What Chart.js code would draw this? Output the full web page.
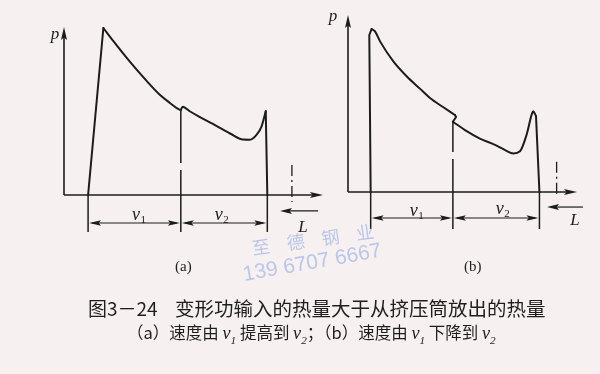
<!DOCTYPE html>
<html><head><meta charset="utf-8">
<script src="https://cdn.jsdelivr.net/npm/chart.js@4.4.0/dist/chart.umd.min.js"></script>
<style>
html,body{margin:0;padding:0;background:#f6f1f0;}
#wrap{position:relative;width:600px;height:374px;overflow:hidden;background:#f6f1f0;}
canvas{position:absolute;left:0;top:0;}
.t{position:absolute;white-space:nowrap;color:#1e1e1e;line-height:1;}
.cjk{font-family:"Noto Sans CJK SC","Noto Sans",sans-serif;}
.ser{font-family:"Liberation Serif","DejaVu Serif",serif;}
.wm{position:absolute;white-space:nowrap;color:rgba(130,155,228,0.5);line-height:1;transform-origin:0 50%;}
i{font-size:1.1em;}
i sub{font-size:0.62em;}
</style></head><body>
<div id="wrap">
<canvas id="ca" width="600" height="374"></canvas>
<canvas id="cb" width="600" height="374"></canvas>
<div class="wm cjk" style="left:252px;top:238px;font-size:18px;letter-spacing:17px;transform:rotate(-8deg);">至德钢业</div>
<div class="wm" style="left:243px;top:263px;font-size:21px;font-family:'Liberation Sans',sans-serif;transform:rotate(-10deg);">139 6707 6667</div>
<div class="t ser" style="left:175px;top:259px;font-size:15px;">(a)</div>
<div class="t ser" style="left:464px;top:259px;font-size:15px;">(b)</div>
<div class="t cjk" style="left:88px;top:298px;font-size:19px;">图3－24</div>
<div class="t cjk" style="left:175px;top:298px;font-size:19.5px;">变形功输入的热量大于从挤压筒放出的热量</div>
<div class="t cjk" style="left:127px;top:324px;font-size:16.5px;">（a）速度由 <i class="ser">v<sub>1</sub></i> 提高到 <i class="ser">v<sub>2</sub></i>；（b）速度由 <i class="ser">v<sub>1</sub></i> 下降到 <i class="ser">v<sub>2</sub></i></div>
</div>
<script>
// ---------- Panel (a): speed raised from v1 to v2 ----------
const A_RISE_X   = [9.3, 15.2];
const A_RISE_Y   = [0, 99.4];
const A_DECAY1_X = [15.2, 19.0, 25.5, 31.9, 37.1, 40.9, 44.4, 45.0];
const A_DECAY1_Y = [99.4, 91.7, 79.2, 67.9, 59.5, 54.8, 50.9, 50.6];
const A_DECAY2_X = [45.1, 45.8, 48.7, 52.5, 57.5, 64.1, 69.1, 71.8, 74.4, 76.3, 77.9];
const A_DECAY2_Y = [50.6, 52.6, 49.7, 46.4, 42.3, 36.6, 33.0, 32.9, 35.9, 40.9, 49.8];
const A_DROP_X   = [77.9, 78.5];
const A_DROP_Y   = [49.8, 0];
const A_BOUNDS   = [9.3, 45.1, 78.5];     // limits of the v1 / v2 stretches
const A_BOUND_TOP= [0, 50.6, 0];
const A_GAP      = [19.0, 14.9];          // break in the middle line
const A_DIM_Y    = -16.7, A_EXT_Y = -22.0;
const A_L_X      = 88.0, A_L_Y = [17.9, -4.2];
const A_ARROW_Y  = -9.5, A_ARROW_X = [98.1, 83.4];
const A_LABELS   = {p:[-3.5, 95.8], v1:[29.0, -11.9], v2:[61.0, -11.9], L:[92.3, -19.6]};

// ---------- Panel (b): speed lowered from v1 to v2 ----------
const B_RISE_X   = [9.9, 9.3, 10.3];
const B_RISE_Y   = [0, 88.7, 92.1];
const B_DECAY1_X = [10.3, 11.8, 14.0, 19.8, 25.6, 31.4, 35.8, 41.5, 46.7];
const B_DECAY1_Y = [92.1, 90.8, 85.1, 73.8, 65.4, 58.4, 53.1, 48.0, 43.5];
const B_NOTCH_X  = [46.7, 47.2, 45.8];
const B_NOTCH_Y  = [43.5, 42.4, 39.7];
const B_DECAY2_X = [45.8, 51.1, 57.6, 64.2, 68.6, 72.2, 75.1, 78.0, 80.2, 80.9, 82.1];
const B_DECAY2_Y = [39.7, 35.0, 30.2, 26.6, 23.7, 21.8, 23.0, 32.4, 43.7, 45.6, 42.8];
const B_DROP_X   = [82.1, 83.6];
const B_DROP_Y   = [42.8, 0];
const B_BOUNDS   = [9.9, 45.8, 83.6];
const B_BOUND_TOP= [0, 39.7, 0];
const B_GAP      = [22.6, 18.6];
const B_DIM_Y    = -14.7, B_EXT_Y = -20.9;
const B_L_X      = 91.1, B_L_Y = [17.1, -2.8];
const B_ARROW_Y  = -8.5, B_ARROW_X = [102.6, 86.9];
const B_LABELS   = {p:[-6.6, 98.9], v1:[30.1, -10.7], v2:[67.7, -9.6], L:[99.1, -16.4]};

const INK = '#1c1c1c';

function pts(xs, ys){ return xs.map((x,i)=>({x:x, y:ys[i]})); }
function seg(xs, ys, smooth){
  return {data: pts(xs, ys), borderColor: INK, borderWidth: 2, pointRadius: 0, fill: false,
          clip: false, tension: 0, cubicInterpolationMode: smooth ? 'monotone' : 'default',
          borderCapStyle: 'round', borderJoinStyle: 'round'};
}
function head(ctx, tx, ty, dx, dy, len, hw){
  const nx = -dy, ny = dx;
  ctx.beginPath();
  ctx.moveTo(tx, ty);
  ctx.lineTo(tx - dx*len + nx*hw, ty - dy*len + ny*hw);
  ctx.lineTo(tx - dx*len*0.8, ty - dy*len*0.8);
  ctx.lineTo(tx - dx*len - nx*hw, ty - dy*len - ny*hw);
  ctx.closePath();
  ctx.fill();
}
function vLabel(ctx, x, y, sub){
  ctx.font = 'italic 18px "Liberation Serif"';
  ctx.textBaseline = 'alphabetic';
  ctx.textAlign = 'left';
  const w = ctx.measureText('v').width;
  ctx.fillText('v', x - w*0.9, y + 5);
  ctx.font = '11px "Liberation Serif"';
  ctx.fillText(sub, x - w*0.9 + w + 0.5, y + 8);
}
function annotate(cfg){
  return {
    id: 'annot',
    afterDatasetsDraw(chart){
      const ctx = chart.ctx, sx = chart.scales.x, sy = chart.scales.y;
      const X = v => sx.getPixelForValue(v), Y = v => sy.getPixelForValue(v);
      ctx.save();
      ctx.strokeStyle = INK; ctx.fillStyle = INK; ctx.lineCap = 'butt';
      // axes
      ctx.lineWidth = 1.6;
      ctx.beginPath(); ctx.moveTo(X(0), Y(0)); ctx.lineTo(X(100) - 4, Y(0)); ctx.stroke();
      ctx.beginPath(); ctx.moveTo(X(0), Y(0)); ctx.lineTo(X(0), Y(100) + 4); ctx.stroke();
      head(ctx, X(100), Y(0), 1, 0, 13, 3);
      head(ctx, X(0), Y(100), 0, -1, 13, 3);
      // boundary / extension lines
      ctx.lineWidth = 1.5;
      cfg.bounds.forEach((b, i) => {
        const top = cfg.boundTop[i];
        ctx.beginPath();
        if (i === 1) {
          ctx.moveTo(X(b), Y(top)); ctx.lineTo(X(b), Y(cfg.gap[0]));
          ctx.moveTo(X(b), Y(cfg.gap[1])); ctx.lineTo(X(b), Y(cfg.extY));
        } else {
          ctx.moveTo(X(b), Y(top)); ctx.lineTo(X(b), Y(cfg.extY));
        }
        ctx.stroke();
      });
      // dimension lines with arrowheads
      ctx.lineWidth = 1.1;
      for (let i = 0; i < cfg.bounds.length - 1; i++) {
        const x1 = X(cfg.bounds[i]), x2 = X(cfg.bounds[i+1]), y = Y(cfg.dimY);
        ctx.beginPath(); ctx.moveTo(x1 + 4, y); ctx.lineTo(x2 - 4, y); ctx.stroke();
        head(ctx, x1 + 1, y, -1, 0, 12, 2.8);
        head(ctx, x2 - 1, y, 1, 0, 12, 2.8);
      }
      // dash-dot marker line
      ctx.lineWidth = 1.3;
      ctx.setLineDash([11, 4, 2, 4]);
      ctx.beginPath(); ctx.moveTo(X(cfg.lX), Y(cfg.lY[0])); ctx.lineTo(X(cfg.lX), Y(cfg.lY[1])); ctx.stroke();
      ctx.setLineDash([]);
      // direction arrow of L
      ctx.lineWidth = 1.2;
      const ay = Y(cfg.arrowY);
      ctx.beginPath(); ctx.moveTo(X(cfg.arrowX[0]), ay); ctx.lineTo(X(cfg.arrowX[1]) + 5, ay); ctx.stroke();
      head(ctx, X(cfg.arrowX[1]), ay, -1, 0, 12, 3);
      // labels
      ctx.textAlign = 'center'; ctx.textBaseline = 'middle';
      ctx.font = 'italic 17px "Liberation Serif"';
      ctx.fillText('p', X(cfg.labels.p[0]), Y(cfg.labels.p[1]));
      ctx.fillText('L', X(cfg.labels.L[0]), Y(cfg.labels.L[1]));
      vLabel(ctx, X(cfg.labels.v1[0]), Y(cfg.labels.v1[1]), '1');
      vLabel(ctx, X(cfg.labels.v2[0]), Y(cfg.labels.v2[1]), '2');
      ctx.restore();
    }
  };
}
function makePanel(id, pad, datasets, cfg){
  return new Chart(document.getElementById(id), {
    type: 'line',
    data: {datasets: datasets},
    options: {
      responsive: false, animation: false, events: [],
      layout: {padding: pad},
      scales: {
        x: {type: 'linear', min: 0, max: 100, display: false},
        y: {type: 'linear', min: 0, max: 100, display: false}
      },
      plugins: {legend: {display: false}, tooltip: {enabled: false}, title: {display: false}}
    },
    plugins: [annotate(cfg)]
  });
}
makePanel('ca', {left: 64, right: 277, top: 27, bottom: 179}, [
  seg(A_RISE_X, A_RISE_Y, false),
  seg(A_DECAY1_X, A_DECAY1_Y, true),
  seg(A_DECAY2_X, A_DECAY2_Y, true),
  seg(A_DROP_X, A_DROP_Y, false)
], {bounds: A_BOUNDS, boundTop: A_BOUND_TOP, gap: A_GAP, dimY: A_DIM_Y, extY: A_EXT_Y,
    lX: A_L_X, lY: A_L_Y, arrowY: A_ARROW_Y, arrowX: A_ARROW_X, labels: A_LABELS});
makePanel('cb', {left: 348, right: 23, top: 15, bottom: 182}, [
  seg(B_RISE_X, B_RISE_Y, false),
  seg(B_DECAY1_X, B_DECAY1_Y, true),
  seg(B_NOTCH_X, B_NOTCH_Y, false),
  seg(B_DECAY2_X, B_DECAY2_Y, true),
  seg(B_DROP_X, B_DROP_Y, false)
], {bounds: B_BOUNDS, boundTop: B_BOUND_TOP, gap: B_GAP, dimY: B_DIM_Y, extY: B_EXT_Y,
    lX: B_L_X, lY: B_L_Y, arrowY: B_ARROW_Y, arrowX: B_ARROW_X, labels: B_LABELS});
</script>
</body></html>
